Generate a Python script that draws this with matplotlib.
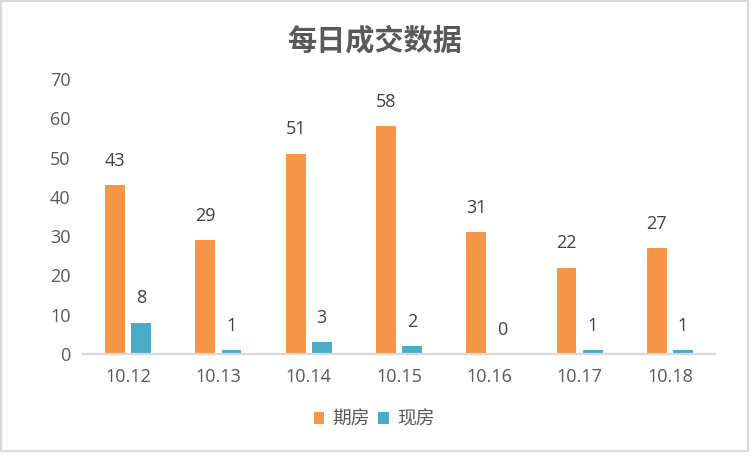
import matplotlib
matplotlib.use("Agg")
import matplotlib.pyplot as plt
from matplotlib.patches import Rectangle
import numpy as np

plt.rcParams['font.family'] = ['Open Sans', 'Noto Sans CJK SC', 'DejaVu Sans']

title = "每日成交数据"
categories = ["10.12", "10.13", "10.14", "10.15", "10.16", "10.17", "10.18"]
series_names = ["期房", "现房"]
qifang = [43, 29, 51, 58, 31, 22, 27]
xianfang = [8, 1, 3, 2, 0, 1, 1]
colors = ["#F79646", "#4BACC6"]
yticks = [0, 10, 20, 30, 40, 50, 60, 70]

W, H = 752, 465
fig = plt.figure(figsize=(W / 100, H / 100), dpi=100)
fig.patch.set_facecolor("white")

# outer border
fig.patches.append(Rectangle((1.5 / W, 1 - 451 / H), 746 / W, 449.5 / H,
                             transform=fig.transFigure, fill=False,
                             edgecolor="#d9d9d9", linewidth=1.6))

ax = fig.add_axes([83 / W, 111 / H, 632 / W, 275 / H])
x = np.arange(len(categories))
bw = 0.22
off = 0.145
b1 = ax.bar(x - off, qifang, bw, color=colors[0], label=series_names[0], zorder=2)
b2 = ax.bar(x + off, xianfang, bw, color=colors[1], label=series_names[1], zorder=2)

for bars, vals in ((b1, qifang), (b2, xianfang)):
    for r, v in zip(bars, vals):
        ax.annotate(str(v), (r.get_x() + r.get_width() / 2, r.get_height()),
                    xytext=(0, 17.5), textcoords="offset points",
                    ha="center", va="center", fontsize=13, color="#404040")

ax.set_xlim(-0.5, len(categories) - 0.5)
ax.set_ylim(0, 70)
ax.set_yticks(yticks)
ax.set_xticks(x)
ax.set_xticklabels(categories)
ax.tick_params(axis="both", length=0, labelsize=13, labelcolor="#595959")
ax.tick_params(axis="y", pad=9)
ax.tick_params(axis="x", pad=10)
for s in ("top", "right", "left"):
    ax.spines[s].set_visible(False)
ax.spines["bottom"].set_color("#d9d9d9")
ax.spines["bottom"].set_linewidth(1.6)
ax.spines["bottom"].set_zorder(3)

fig.text(375 / W, 1 - 40 / H, title, ha="center", va="center",
         fontsize=21, fontweight="bold", color="#595959",
         family=['Noto Sans CJK SC', 'DejaVu Sans'])

leg = fig.legend(handles=[b1, b2], labels=series_names, loc="center",
                 bbox_to_anchor=(374 / W, 1 - 419 / H), ncol=2, frameon=False,
                 handlelength=0.55, handleheight=0.55,
                 handletextpad=0.45, columnspacing=0.45,
                 prop={'family': ['Noto Sans CJK SC', 'DejaVu Sans'], 'size': 13.5})
for t in leg.get_texts():
    t.set_color("#595959")

fig.savefig("out.png", dpi=100, facecolor="white")
